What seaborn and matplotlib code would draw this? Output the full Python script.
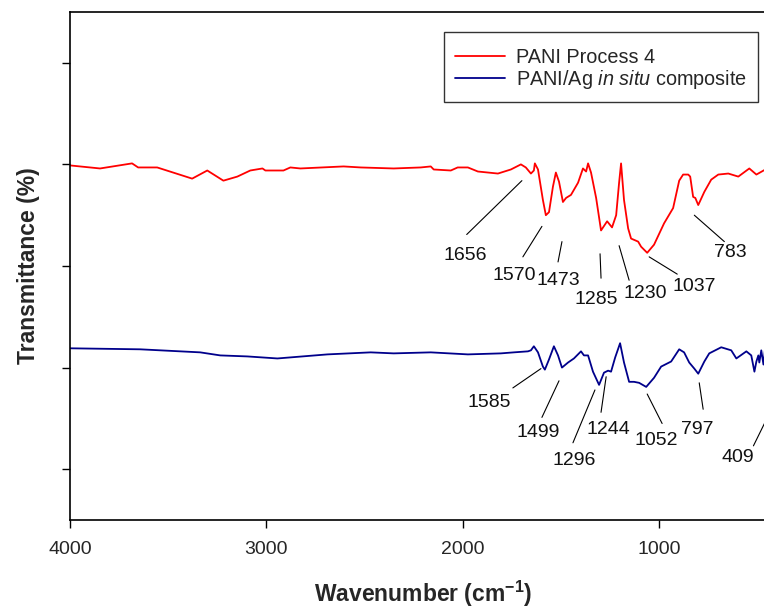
import numpy as np
import pandas as pd
import matplotlib
matplotlib.use("Agg")
import matplotlib.pyplot as plt
import seaborn as sns

# ---------------- data ----------------
red_wn = [4000, 3847, 3684, 3653, 3556, 3378, 3301, 3219, 3148, 3082, 3020, 3005, 2913, 2878,
          2827, 2607, 2520, 2352, 2214, 2163, 2148, 2061, 2026, 1974, 1923, 1821, 1755, 1704,
          1679, 1653, 1638, 1633, 1617, 1592, 1577, 1561, 1541, 1526, 1510, 1490, 1474, 1449,
          1413, 1388, 1372, 1362, 1347, 1321, 1296, 1265, 1240, 1219, 1204, 1194, 1179, 1158,
          1143, 1107, 1092, 1061, 1026, 975, 929, 898, 878, 852, 842, 827, 816, 801, 770, 735,
          699, 648, 597, 541, 505, 459, 403]
red_t = [34.9, 34.6, 35.1, 34.7, 34.7, 33.6, 34.4, 33.4, 33.8, 34.4, 34.6, 34.4, 34.4, 34.7,
         34.6, 34.8, 34.7, 34.6, 34.7, 34.8, 34.5, 34.4, 34.7, 34.7, 34.3, 34.1, 34.5, 35.0,
         34.7, 34.1, 34.4, 35.1, 34.5, 31.5, 30.0, 30.3, 32.8, 34.2, 33.3, 31.3, 31.7, 32.0,
         33.2, 34.6, 34.3, 35.1, 34.2, 31.7, 28.5, 29.4, 28.8, 30.0, 33.2, 35.1, 31.5, 28.7,
         27.7, 27.4, 26.9, 26.3, 27.1, 29.2, 30.7, 33.4, 34.0, 34.0, 33.8, 31.8, 31.7, 31.0,
         32.3, 33.5, 34.0, 34.1, 33.8, 34.6, 34.0, 34.5, 34.7]

blue_wn = [4000, 3643, 3337, 3235, 3097, 2944, 2689, 2469, 2352, 2163, 1974, 1806, 1740, 1668,
           1653, 1638, 1617, 1592, 1582, 1561, 1536, 1515, 1495, 1464, 1434, 1398, 1383, 1362,
           1337, 1306, 1281, 1260, 1245, 1224, 1199, 1179, 1153, 1128, 1102, 1066, 1026, 990,
           939, 898, 873, 847, 821, 801, 770, 745, 684, 633, 607, 556, 531, 515, 505, 495, 490,
           480, 469, 459, 439, 418, 400]
blue_t = [16.9, 16.8, 16.5, 16.2, 16.1, 15.9, 16.3, 16.5, 16.4, 16.5, 16.3, 16.4, 16.5, 16.6,
          16.7, 17.1, 16.5, 15.1, 14.8, 15.8, 17.1, 16.2, 15.0, 15.5, 15.9, 16.6, 16.2, 16.2,
          14.6, 13.3, 14.5, 14.7, 14.6, 16.0, 17.4, 15.5, 13.6, 13.6, 13.5, 13.1, 14.0, 15.1,
          15.6, 16.8, 16.5, 15.5, 14.9, 14.4, 15.6, 16.4, 17.0, 16.7, 15.9, 16.6, 16.2, 14.6,
          15.6, 16.2, 15.5, 16.7, 15.3, 17.2, 15.4, 16.4, 15.0]

series_names = ["PANI Process 4", "PANI/Ag $\\mathit{in\\ situ}$ composite"]
series_colors = ["#ff0000", "#00008b"]

# annotations: label, line start (wn, T), line end (wn, T), text (wn, T)
red_labels = ["1656", "1570", "1473", "1285", "1230", "1037", "783"]
red_line_start = [(1699, 33.4), (1597, 28.9), (1495, 27.4), (1301, 26.2), (1204, 27.0), (1051, 25.9), (821, 30.0)]
red_line_end = [(1980, 28.1), (1694, 25.9), (1515, 25.4), (1296, 23.8), (1153, 23.6), (908, 24.2), (668, 27.4)]
red_text_pos = [(1985, 26.0), (1740, 24.1), (1515, 23.6), (1321, 21.7), (1071, 22.3), (821, 23.0), (638, 26.3)]

blue_labels = ["1585", "1499", "1296", "1244", "1052", "797", "409"]
blue_line_start = [(1602, 14.9), (1510, 13.7), (1327, 12.8), (1270, 14.1), (1061, 12.4), (796, 13.5), (520, 7.3)]
blue_line_end = [(1745, 13.0), (1597, 10.1), (1439, 7.6), (1296, 10.6), (985, 9.5), (776, 10.9), (413, 11.5)]
blue_text_pos = [(1867, 11.6), (1617, 8.6), (1434, 5.9), (1260, 8.9), (1015, 7.8), (806, 8.9), (597, 6.2)]

x_ticks = [4000, 3000, 2000, 1000]
y_ticks = [5, 15, 25, 35, 45]

# ---------------- style ----------------
sns.set_style("ticks")
plt.rcParams["font.family"] = ["Liberation Sans", "DejaVu Sans"]
plt.rcParams["mathtext.fontset"] = "custom"
plt.rcParams["mathtext.rm"] = "Liberation Sans"
plt.rcParams["mathtext.it"] = "Liberation Sans:italic"
plt.rcParams["mathtext.bf"] = "Liberation Sans:bold"

W, H = 764, 608
fig = plt.figure(figsize=(W / 100, H / 100), dpi=100)
ax = fig.add_axes([70 / W, 1 - 520 / H, (777 - 70) / W, (520 - 12) / H])

df = pd.concat([
    pd.DataFrame({"wn": red_wn, "T": red_t, "series": series_names[0]}),
    pd.DataFrame({"wn": blue_wn, "T": blue_t, "series": series_names[1]}),
])
sns.lineplot(data=df, x="wn", y="T", hue="series", palette=series_colors,
             sort=False, estimator=None, linewidth=1.3, ax=ax)

ax.set_xlim(4000, 400)
ax.set_ylim(0, 50)
ax.set_xticks(x_ticks)
ax.set_xticklabels([str(t) for t in x_ticks], fontsize=14)
ax.set_yticks(y_ticks)
ax.set_yticklabels([])
ax.tick_params(axis="both", direction="out", length=6, width=1, color="black", pad=9)
for s in ax.spines.values():
    s.set_linewidth(1.2)
    s.set_color("black")

ax.set_xlabel("Wavenumber (cm$^{\\mathbf{-1}}$)", fontsize=16.5, fontweight="bold", va="center")
ax.xaxis.set_label_coords(0.5, (520 - 594) / 508)
ax.set_ylabel("Transmittance (%)", fontsize=16.5, fontweight="bold", va="center")
ax.yaxis.set_label_coords((28 - 70) / 707, 0.5)

for labels, st, en, tp in [(red_labels, red_line_start, red_line_end, red_text_pos),
                           (blue_labels, blue_line_start, blue_line_end, blue_text_pos)]:
    for lab, a, b, t in zip(labels, st, en, tp):
        ax.plot([a[0], b[0]], [a[1], b[1]], color="black", linewidth=0.8)
        ax.text(t[0], t[1], lab, ha="center", va="center", fontsize=14, color="#111111")

leg = ax.legend(loc="upper right", bbox_to_anchor=(758 / W, 1 - 32 / H),
                bbox_transform=fig.transFigure, borderaxespad=0, frameon=True, fancybox=False,
                fontsize=14.3, handlelength=2.55, handletextpad=0.55, borderpad=0.55,
                labelspacing=0.02, title=" ", title_fontsize=4)
leg.get_frame().set_edgecolor("black")
leg.get_frame().set_linewidth(1.0)
for line in leg.get_lines():
    line.set_linewidth(1.3)

fig.savefig("out.png", dpi=100)
